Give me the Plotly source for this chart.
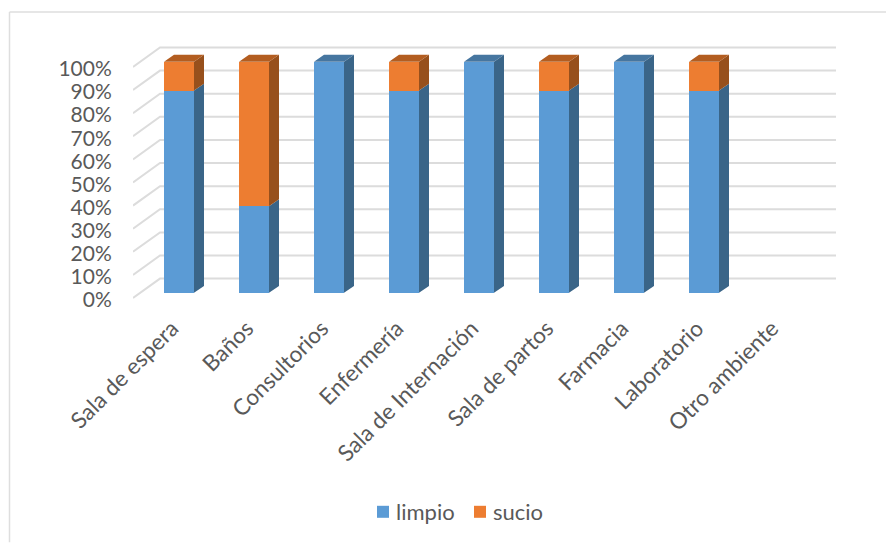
import plotly.graph_objects as go

categories = ["Sala de espera", "Baños", "Consultorios", "Enfermería", "Sala de Internación",
              "Sala de partos", "Farmacia", "Laboratorio", "Otro ambiente"]
limpio = [87.5, 37.5, 100, 87.5, 100, 87.5, 100, 87.5, 0]
sucio = [12.5, 62.5, 0, 12.5, 0, 12.5, 0, 12.5, 0]
ticks = [0, 10, 20, 30, 40, 50, 60, 70, 80, 90, 100]

W, H = 886, 544
L, R, T, B = 133, 840, 40, 310      # plot-area pixel box
PX_X, PX_Y = 75.0, 2.32             # pixels per category / per percent
X0 = 179                            # pixel of first category centre
ZERO_LABEL, ZERO_BAR = 299, 293.8   # pixel of 0 on the tick axis / on the bar axis

BLUE, ORANGE = "#5B9BD5", "#ED7D31"
BLUE_SIDE, BLUE_TOP = "#3A6588", "#4676A0"
ORANGE_SIDE, ORANGE_TOP = "#97501C", "#B35D20"
GRID, TEXT = "#DCDCDC", "#595959"
FONT = "Lato"

xr = [(L - X0) / PX_X, (R - X0) / PX_X]
yr = [(ZERO_LABEL - B) / PX_Y, (ZERO_LABEL - T) / PX_Y]
y2r = [(ZERO_BAR - B) / PX_Y, (ZERO_BAR - T) / PX_Y]

half = 0.2
dx, dy = 10 / PX_X, 7 / PX_Y
wall_x0 = (160 - X0) / PX_X
wall_x1 = (836 - X0) / PX_X
wall_dy = 19.5 / PX_Y
idx = list(range(len(categories)))

fig = go.Figure()

# wall gridlines and floor-side diagonals, on the tick axis
gx, gy = [], []
for t in ticks:
    gx += [xr[0], wall_x0, wall_x1, None]
    gy += [t, t + wall_dy, t + wall_dy, None]
fig.add_trace(go.Scatter(x=gx, y=gy, mode="lines", line=dict(color=GRID, width=2),
                         hoverinfo="skip", showlegend=False, yaxis="y", cliponaxis=False))

fig.add_trace(go.Bar(x=idx, y=limpio, name="limpio", marker=dict(color=BLUE, line_width=0),
                     width=2 * half, yaxis="y2"))
fig.add_trace(go.Bar(x=idx, y=sucio, name="sucio", marker=dict(color=ORANGE, line_width=0),
                     width=2 * half, yaxis="y2"))


def side_faces(bases, tops):
    xs, ys = [], []
    for i, b, t in zip(idx, bases, tops):
        if t <= b:
            continue
        r = i + half
        xs += [r, r + dx, r + dx, r, r, None]
        ys += [b, b + dy, t + dy, t, b, None]
    return xs, ys


def top_faces(bases, tops):
    xs, ys = [], []
    for i, b, t in zip(idx, bases, tops):
        if t <= b:
            continue
        l, r = i - half, i + half
        xs += [l, l + dx, r + dx, r, l, None]
        ys += [t, t + dy, t + dy, t, t, None]
    return xs, ys


totals = [a + b for a, b in zip(limpio, sucio)]
blue_tops = [v if s == 0 else 0 for v, s in zip(limpio, sucio)]

faces = [
    (side_faces([0] * len(limpio), limpio), BLUE_SIDE),
    (side_faces(limpio, totals), ORANGE_SIDE),
    (top_faces([0] * len(limpio), blue_tops), BLUE_TOP),
    (top_faces(limpio, totals), ORANGE_TOP),
]
for (fx, fy), col in faces:
    fig.add_trace(go.Scatter(x=fx, y=fy, mode="lines", fill="toself", fillcolor=col,
                             line=dict(width=0, color=col), hoverinfo="skip",
                             showlegend=False, yaxis="y2"))


def px(v):
    return (v - L) / (R - L)


def paper_y(p):
    return (B - p) / (B - T)


border = "#DEDEDE"
fig.update_layout(
    width=W, height=H, autosize=False,
    margin=dict(l=L, r=W - R, t=T, b=H - B, pad=0),
    paper_bgcolor="white", plot_bgcolor="rgba(0,0,0,0)",
    barmode="stack", bargap=0.6,
    font=dict(family=FONT, color=TEXT, size=20),
    xaxis=dict(range=xr, tickmode="array", tickvals=idx, ticktext=categories, tickangle=-45,
               showgrid=False, zeroline=False, showline=False, ticks="",
               ticklabelstandoff=1, ticklabelshift=-7,
               tickfont=dict(size=22.5, family=FONT, color=TEXT)),
    yaxis=dict(range=yr, tickmode="array", tickvals=ticks, ticktext=[f"{t}%" for t in ticks],
               showgrid=False, zeroline=False, showline=False, ticks="outside", ticklen=16,
               ticklabelshift=2,
               tickcolor="rgba(0,0,0,0)", tickfont=dict(size=21, family=FONT, color=TEXT)),
    yaxis2=dict(range=y2r, overlaying="y", visible=False),
    legend=dict(orientation="h", traceorder="normal", x=px(363), xanchor="left",
                y=paper_y(512), yanchor="middle", entrywidth=52, entrywidthmode="pixels",
                font=dict(size=22, family=FONT, color=TEXT), bgcolor="rgba(0,0,0,0)",
                itemclick=False, itemdoubleclick=False),
    shapes=[
        dict(type="line", xref="paper", yref="paper", x0=px(9.5), x1=px(886), y0=paper_y(12), y1=paper_y(12),
             line=dict(color=border, width=1.5)),
        dict(type="line", xref="paper", yref="paper", x0=px(9.5), x1=px(9.5), y0=paper_y(12), y1=paper_y(544),
             line=dict(color=border, width=1.5)),
    ],
)

post = """
document.body.style.margin = '0';
document.body.style.overflow = 'hidden';
document.querySelectorAll('.legendtext').forEach(function (t) { t.setAttribute('x', 33); });
"""
fig.write_html("out.html", config=dict(displayModeBar=False), post_script=post)
